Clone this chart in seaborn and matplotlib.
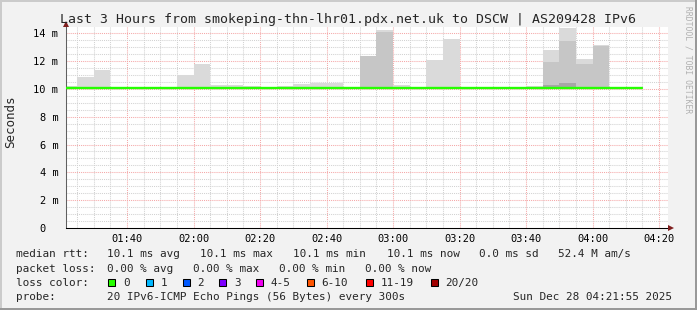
import numpy as np
import pandas as pd
import matplotlib
matplotlib.use("Agg")
import matplotlib.pyplot as plt
import seaborn as sns
from matplotlib.patches import Rectangle
from matplotlib.transforms import ScaledTranslation

# ---------------- data ----------------
interval_start = ["01:20", "01:25", "01:30", "01:35", "01:40", "01:45", "01:50",
                  "01:55", "02:00", "02:05", "02:10", "02:15", "02:20", "02:25",
                  "02:30", "02:35", "02:40", "02:45", "02:50", "02:55", "03:00",
                  "03:05", "03:10", "03:15", "03:20", "03:25", "03:30", "03:35",
                  "03:40", "03:45", "03:50", "03:55", "04:00", "04:05", "04:10"]
median_rtt = [10.1, 10.1, 10.1, 10.1, 10.1, 10.1, 10.1,
              10.1, 10.1, 10.1, 10.1, 10.1, 10.1, 10.1,
              10.1, 10.1, 10.1, 10.1, 10.1, 10.1, 10.1,
              10.1, 10.1, 10.1, 10.1, 10.1, 10.1, 10.1,
              10.1, 10.1, 10.1, 10.1, 10.1, 10.1, 10.1]
smoke_min = [10.05, 10.05, 10.05, 10.05, 10.05, 10.05, 10.05,
             10.05, 10.05, 10.05, 10.05, 10.05, 10.05, 10.05,
             10.05, 10.05, 10.05, 10.05, 10.05, 10.05, 10.05,
             10.05, 10.05, 10.05, 10.05, 10.05, 10.05, 10.05,
             10.05, 10.05, 10.05, 10.05, 10.05, 10.05, 10.05]
smoke_max = [10.20, 10.86, 11.36, 10.10, 10.10, 10.10, 10.10,
             10.99, 11.79, 10.27, 10.27, 10.18, 10.10, 10.20,
             10.35, 10.42, 10.42, 10.10, 12.33, 14.20, 10.28,
             10.10, 12.06, 13.57, 10.10, 10.10, 10.10, 10.10,
             10.22, 12.78, 14.40, 12.12, 13.14, 10.10, 10.10]
smoke_mid = [10.10, 10.10, 10.10, 10.10, 10.10, 10.10, 10.10,
             10.10, 10.10, 10.10, 10.10, 10.10, 10.10, 10.10,
             10.10, 10.10, 10.10, 10.10, 12.33, 14.10, 10.10,
             10.10, 10.10, 10.10, 10.10, 10.10, 10.10, 10.10,
             10.10, 11.90, 13.45, 11.82, 13.07, 10.10, 10.10]
smoke_dark = [10.10, 10.10, 10.10, 10.10, 10.10, 10.10, 10.10,
              10.10, 10.10, 10.10, 10.10, 10.10, 10.10, 10.10,
              10.10, 10.10, 10.10, 10.10, 10.10, 10.10, 10.10,
              10.10, 10.10, 10.10, 10.10, 10.10, 10.10, 10.10,
              10.10, 10.30, 10.43, 10.10, 10.10, 10.10, 10.10]

x_tick_labels = ["01:40", "02:00", "02:20", "02:40", "03:00", "03:20", "03:40", "04:00", "04:20"]
y_tick_values = [0, 2, 4, 6, 8, 10, 12, 14]
y_tick_labels = ["0", "2 m", "4 m", "6 m", "8 m", "10 m", "12 m", "14 m"]

loss_labels = ["0", "1", "2", "3", "4-5", "6-10", "11-19", "20/20"]
loss_colors = ["#26ff00", "#00b8ff", "#0059ff", "#7e00ff", "#f000f0", "#ff5500", "#ff0000", "#a10000"]

title = "Last 3 Hours from smokeping-thn-lhr01.pdx.net.uk to DSCW | AS209428 IPv6"
rtt_stats = ["median rtt:", "10.1 ms avg", "10.1 ms max", "10.1 ms min", "10.1 ms now", "0.0 ms sd", "52.4 M am/s"]
loss_stats = ["packet loss:", "0.00 % avg", "0.00 % max", "0.00 % min", "0.00 % now"]
probe_text = ["probe:", "20 IPv6-ICMP Echo Pings (56 Bytes) every 300s"]
stamp = "Sun Dec 28 04:21:55 2025"


def to_min(s):
    h, m = s.split(":")
    return int(h) * 60 + int(m)


# ---------------- style ----------------
sns.set_style("white")
MONO = ["DejaVu Sans Mono"]
plt.rcParams["font.family"] = MONO

W, H = 697, 310
BG = "#f2f2f2"
fig = plt.figure(figsize=(W / 100, H / 100), dpi=100, facecolor=BG)

def fx(px):
    return px / W

def fy(py):
    return 1 - py / H

ax = fig.add_axes([fx(66), fy(228), fx(668) - fx(66), fy(27) - fy(228)])
ax.set_facecolor("white")

t = np.array([to_min(s) for s in interval_start], dtype=float)
step = 5.0
smin = np.array(smoke_min)

ax.bar(t, np.array(smoke_max) - smin, bottom=smin, width=step, align="edge",
       color="#dadada", linewidth=0, zorder=2)
ax.bar(t, np.array(smoke_mid) - smin, bottom=smin, width=step, align="edge",
       color="#c6c6c6", linewidth=0, zorder=2.1)
ax.bar(t, np.array(smoke_dark) - smin, bottom=smin, width=step, align="edge",
       color="#a6a6a6", linewidth=0, zorder=2.2)

df = pd.DataFrame({"t": np.append(t, t[-1] + step),
                   "rtt": np.append(median_rtt, median_rtt[-1])})
sns.lineplot(data=df, x="t", y="rtt", drawstyle="steps-post", color="#26ff00",
             linewidth=1.7, estimator=None, ax=ax, zorder=3)

ax.set_xlim(81.65, 262.7)
ax.set_ylim(0, 14.45)

xt = [to_min(s) for s in x_tick_labels]
ax.set_xticks(xt)
ax.set_xticklabels(x_tick_labels)
ax.set_xticks(np.arange(85, 265, 5), minor=True)
ax.set_yticks(y_tick_values)
ax.set_yticklabels(y_tick_labels)
ax.set_yticks(np.arange(0.5, 14.5, 0.5), minor=True)

dot = (0, (1, 1))
ax.grid(which="major", color="#f5a8a8", linestyle=dot, linewidth=0.75, zorder=0)
ax.grid(which="minor", color="#d2d2d2", linestyle=dot, linewidth=0.75, zorder=0)
ax.set_axisbelow(True)

ax.tick_params(axis="both", which="both", labelsize=7.5, colors="#000000")
ax.tick_params(axis="y", which="major", length=2.5, width=0.75, color="#f5a8a8", pad=3)
ax.tick_params(axis="y", which="minor", length=2.5, width=0.75, color="#d2d2d2")
ax.tick_params(axis="x", which="major", length=2, width=0.75, color="#f5a8a8", pad=2.2)
ax.tick_params(axis="x", which="minor", length=2, width=0.75, color="#d2d2d2")
for lab in ax.get_yticklabels():
    lab.set_fontfamily(MONO)
    if lab.get_text() == "0":
        lab.set_transform(lab.get_transform() + ScaledTranslation(-0.125, 0, fig.dpi_scale_trans))
for lab in ax.get_xticklabels():
    lab.set_fontfamily(MONO)

ax.set_xlabel("")
ax.set_ylabel("")
for s in ["top", "right"]:
    ax.spines[s].set_visible(False)
ax.spines["left"].set_color("#606060")
ax.spines["left"].set_linewidth(0.75)
ax.spines["bottom"].set_color("#000000")
ax.spines["bottom"].set_linewidth(0.75)

# arrows
ax.plot([0, 0], [1.0, 1.015], transform=ax.transAxes, color="#606060", lw=0.75, clip_on=False)
ax.plot([0], [1.0125], marker="^", markersize=4.2, color="#7f1f1f", transform=ax.transAxes,
        clip_on=False, zorder=5, markeredgewidth=0)
ax.plot([1.0055], [0], marker=">", markersize=4.2, color="#7f1f1f", transform=ax.transAxes,
        clip_on=False, zorder=5, markeredgewidth=0)

# texts
fig.text(fx(348.5), fy(23.3), title, ha="center", va="baseline", fontsize=9.55, family=MONO)
fig.text(fx(10.5), fy(122), "Seconds", rotation=90, ha="center", va="center", fontsize=9.0, family=MONO)
fig.text(fx(688), fy(60), "RRDTOOL / TOBI OETIKER", rotation=270, ha="center", va="center",
         fontsize=5.8, family=MONO, color="#b0b0b0")

LFS = 7.9
xs1 = [16, 107.3, 200, 293, 386.7, 479.3, 558.3]
for s, x in zip(rtt_stats, xs1):
    fig.text(fx(x), fy(257.3), s, ha="left", va="baseline", fontsize=LFS, family=MONO)
xs2 = [16, 107.3, 193.3, 279.3, 365.3]
for s, x in zip(loss_stats, xs2):
    fig.text(fx(x), fy(271.7), s, ha="left", va="baseline", fontsize=LFS, family=MONO)
fig.text(fx(16), fy(285.7), "loss color:", ha="left", va="baseline", fontsize=LFS, family=MONO)
box_x = [108.3, 145.7, 182.7, 219.3, 256, 306.7, 365.7, 430.7]
for lab, col, bx in zip(loss_labels, loss_colors, box_x):
    fig.patches.append(Rectangle((fx(bx), fy(285.5)), fx(7), 7 / H, transform=fig.transFigure,
                                 facecolor=col, edgecolor="black", linewidth=0.75))
    fig.text(fx(bx + 14.8), fy(285.7), lab, ha="left", va="baseline", fontsize=LFS, family=MONO)
fig.text(fx(16), fy(299.5), probe_text[0], ha="left", va="baseline", fontsize=LFS, family=MONO)
fig.text(fx(107.3), fy(299.5), probe_text[1], ha="left", va="baseline", fontsize=LFS, family=MONO)
fig.text(fx(513.3), fy(299.5), stamp, ha="left", va="baseline", fontsize=LFS, family=MONO)

# 3D frame
fig.patches.append(Rectangle((0, 1 - 2 / H), 1, 2 / H, transform=fig.transFigure, facecolor="#cbcbcb", lw=0))
fig.patches.append(Rectangle((0, 0), 2 / W, 1, transform=fig.transFigure, facecolor="#cbcbcb", lw=0))
fig.patches.append(Rectangle((0, 0), 1, 2 / H, transform=fig.transFigure, facecolor="#999999", lw=0))
fig.patches.append(Rectangle((1 - 2 / W, 0), 2 / W, 1, transform=fig.transFigure, facecolor="#999999", lw=0))

fig.savefig("out.png", dpi=100, facecolor=BG)
